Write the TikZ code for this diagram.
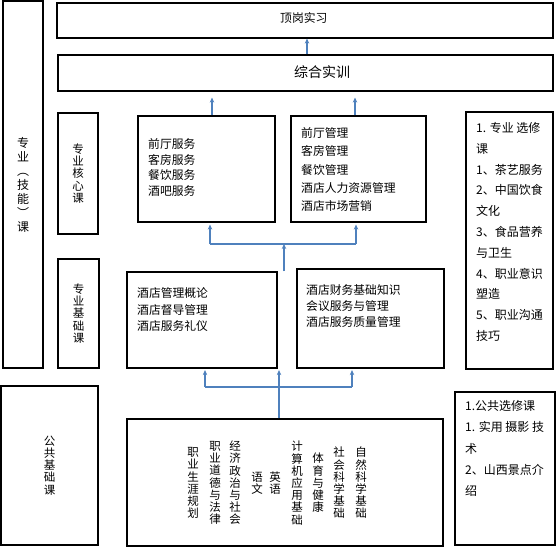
\documentclass[tikz,border=0pt]{standalone}
\usepackage{fontspec}
\newfontfamily\cjk{Noto Sans CJK SC}
\usetikzlibrary{arrows.meta}
\definecolor{arrowblue}{HTML}{4F81BD}

\begin{document}
\begin{tikzpicture}[
    x=1pt, y=-1pt,
    box/.style={draw, line width=1.2pt, inner sep=0pt},
    vtext/.style={align=center, font=\cjk\fontsize{11.5}{12.2}\selectfont},
    txt/.style={anchor=west, align=left, inner sep=0pt, font=\cjk\fontsize{11.8}{15.7}\selectfont},
    sidetxt/.style={anchor=west, align=left, inner sep=0pt, font=\cjk\fontsize{12}{20.8}\selectfont},
    uparrow/.style={arrowblue, line width=1.3pt, -{Stealth[length=5pt, width=4.5pt]}},
    branch/.style={arrowblue, line width=1.3pt}
]
\useasboundingbox (0,0) rectangle (556,547);

% left column
\node[box, vtext, font=\cjk\fontsize{12}{14}\selectfont, minimum width=40pt, minimum height=367pt] (zyj) at (23,184.5) {专\\业\\︵\\技\\能\\︶\\课};
\node[box, vtext, minimum width=40pt, minimum height=121pt] (hxk) at (78,173.5) {专\\业\\核\\心\\课};
\node[box, vtext, minimum width=41pt, minimum height=109pt] (jck) at (78.5,313.5) {专\\业\\基\\础\\课};
\node[box, vtext, minimum width=97pt, minimum height=159pt] (ggk) at (49.5,465.5) {公\\共\\基\\础\\课};

% top rows
\node[box, minimum width=496pt, minimum height=35pt] (dgsx) at (305,20.5) {};
\node[txt] (dgsx-t) at (280,18) {顶岗实习};
\node[box, minimum width=495pt, minimum height=36pt] (zhsx) at (305.5,73) {};
\node[txt, font=\cjk\fontsize{14}{16}\selectfont] (zhsx-t) at (294,72) {综合实训};

% core courses
\node[box, minimum width=137pt, minimum height=106pt] (fwk) at (206.5,169) {};
\node[txt] (fwk-t) at (148,167.5) {前厅服务\\客房服务\\餐饮服务\\酒吧服务};
\node[box, minimum width=135pt, minimum height=106pt] (glk) at (358.5,169) {};
\node[txt, font=\cjk\fontsize{11.8}{18.25}\selectfont] (glk-t) at (301,169.5) {前厅管理\\客房管理\\餐饮管理\\酒店人力资源管理\\酒店市场营销};

% basic courses
\node[box, minimum width=150pt, minimum height=96pt] (jc1) at (202,320) {};
\node[txt, font=\cjk\fontsize{11.8}{16.5}\selectfont] (jc1-t) at (137,309.5) {酒店管理概论\\酒店督导管理\\酒店服务礼仪};
\node[box, minimum width=147pt, minimum height=99pt] (jc2) at (370.5,318.5) {};
\node[txt, font=\cjk\fontsize{11.8}{16}\selectfont] (jc2-t) at (306,306) {酒店财务基础知识\\会议服务与管理\\酒店服务质量管理};

% public courses
\node[box, minimum width=316pt, minimum height=127pt] (ggbox) at (285,482.5) {};
\node[vtext] (c1) at (193,483) {职\\业\\生\\涯\\规\\划};
\node[vtext] (c2) at (215,483) {职\\业\\道\\德\\与\\法\\律};
\node[vtext] (c3) at (235,483) {经\\济\\政\\治\\与\\社\\会};
\node[vtext] (c4) at (257,483) {语\\文};
\node[vtext] (c5) at (275,483) {英\\语};
\node[vtext] (c6) at (297,483) {计\\算\\机\\应\\用\\基\\础};
\node[vtext] (c7) at (318,483) {体\\育\\与\\健\\康};
\node[vtext] (c8) at (339,483) {社\\会\\科\\学\\基\\础};
\node[vtext] (c9) at (361,483) {自\\然\\科\\学\\基\\础};

% electives
\node[box, minimum width=87pt, minimum height=257pt] (zyxx) at (509.5,240.5) {};
\node[sidetxt] (zyxx-t) at (476,232) {1. 专业 选修\\课\\1、茶艺服务\\2、中国饮食\\文化\\3、食品营养\\与卫生\\4、职业意识\\塑造\\5、职业沟通\\技巧};
\node[box, minimum width=100pt, minimum height=153pt] (ggxx) at (505,468.5) {};
\node[sidetxt, font=\cjk\fontsize{12}{21.2}\selectfont] (ggxx-t) at (465,448.5) {1.公共选修课\\1. 实用 摄影 技\\术\\2、山西景点介\\绍};

% arrows
\draw[uparrow] ([xshift=1.5pt]zhsx.north) -- ([xshift=1.5pt]zhsx.north |- dgsx.south);
\draw[uparrow, shorten >=6pt] ([xshift=5.5pt]fwk.north) -- ([xshift=5.5pt]fwk.north |- zhsx.south);
\draw[uparrow, shorten >=6pt] ([xshift=-3.5pt]glk.north) -- ([xshift=-3.5pt]glk.north |- zhsx.south);

\coordinate (j1) at (284,244);
\coordinate (j1l) at (210,244);
\coordinate (j1r) at (356,244);
\draw[uparrow] (jc1.north -| j1) -- (j1);
\draw[branch] (j1l) -- (j1r);
\draw[uparrow, shorten >=2pt] (j1l) -- (j1l |- fwk.south);
\draw[uparrow, shorten >=2pt] (j1r) -- (j1r |- glk.south);

\coordinate (j2) at (279,387);
\coordinate (j2l) at (205,387);
\coordinate (j2r) at (352,387);
\draw[uparrow, shorten >=1.5pt] (ggbox.north -| j2) -- (j2 |- jc1.south);
\draw[branch] (j2l) -- (j2r);
\draw[uparrow, shorten >=1.5pt] (j2l) -- (j2l |- jc1.south);
\draw[uparrow, shorten >=1.5pt] (j2r) -- (j2r |- jc2.south);

\end{tikzpicture}
\end{document}
